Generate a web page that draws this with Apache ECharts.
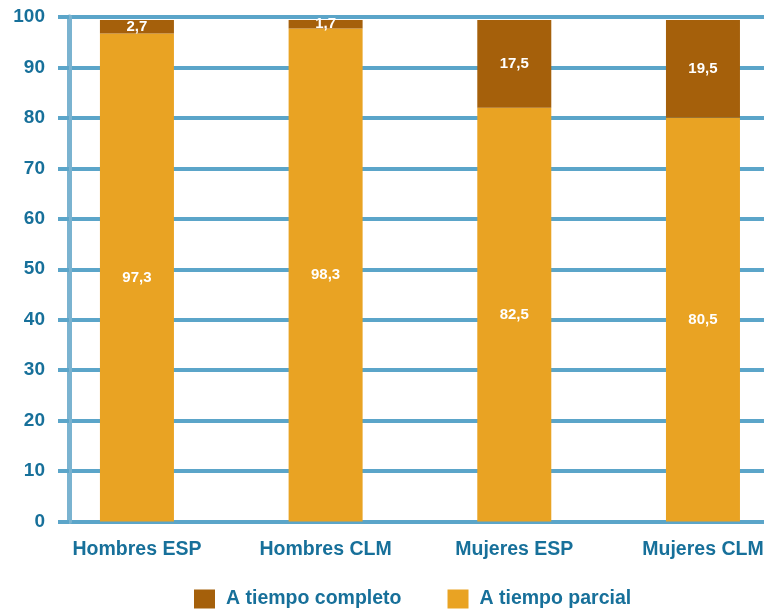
<!DOCTYPE html>
<html>
<head>
<meta charset="utf-8">
<script src="https://cdn.jsdelivr.net/npm/echarts@6/dist/echarts.min.js"></script>
<style>
  html, body { margin: 0; padding: 0; background: #ffffff; }
  #chart { width: 764px; height: 610px; }
</style>
</head>
<body>
<div id="chart"></div>
<script>
// Categories and stacked shares (%)
const categories = ['Hombres ESP', 'Hombres CLM', 'Mujeres ESP', 'Mujeres CLM'];
const parcial = [97.3, 98.3, 82.5, 80.5];
const completo = [2.7, 1.7, 17.5, 19.5];
const yTicks = [0, 10, 20, 30, 40, 50, 60, 70, 80, 90, 100];

const TEXT = '#17709A';
const GRID = '#5BA5C9';
const FONT = '"Liberation Sans", Arial, sans-serif';

const fmt = p => String(p.value).replace('.', ',');
const barLabel = {
  show: true, position: 'inside', formatter: fmt,
  color: '#ffffff', fontSize: 15, fontWeight: 'bold', fontFamily: FONT
};

const chart = echarts.init(document.getElementById('chart'), null, { renderer: 'canvas' });
chart.setOption({
  animation: false,
  backgroundColor: '#ffffff',
  textStyle: { fontFamily: FONT },
  // grid 0: value scale with gridlines; grid 1: wider category band for the bars
  grid: [
    { left: 69, right: 0, top: 17, bottom: 88.5, containLabel: false, outerBoundsMode: 'none' },
    { left: 42.6, width: 754.7, top: 17, bottom: 88.5, containLabel: false, outerBoundsMode: 'none' }
  ],
  legend: {
    left: 194,
    bottom: 1,
    padding: 0,
    itemWidth: 21,
    itemHeight: 19,
    itemGap: 46,
    icon: 'rect',
    data: ['A tiempo completo', 'A tiempo parcial'],
    textStyle: { color: TEXT, fontSize: 19.5, fontWeight: 'bold', fontFamily: FONT, padding: [0, 0, 0, 6] }
  },
  xAxis: [
    { type: 'value', gridIndex: 0, min: 0, max: 1, show: false },
    {
      type: 'category',
      gridIndex: 1,
      data: categories,
      axisLine: { show: false },
      axisTick: { show: false },
      splitLine: { show: false },
      axisLabel: {
        color: TEXT,
        fontSize: 19.5,
        fontWeight: 'bold',
        fontFamily: FONT,
        margin: 18
      }
    }
  ],
  yAxis: [
    {
      type: 'value',
      gridIndex: 0,
      min: yTicks[0],
      max: yTicks[yTicks.length - 1],
      interval: 10,
      axisLine: { show: true, onZero: false, lineStyle: { color: '#7AB3D0', width: 5 } },
      axisTick: { show: true, length: 11, lineStyle: { color: GRID, width: 4 } },
      splitLine: { show: true, lineStyle: { color: GRID, width: 4 } },
      axisLabel: {
        color: TEXT,
        fontSize: 19,
        fontWeight: 'bold',
        fontFamily: FONT,
        margin: 24
      }
    },
    {
      // bar scale leaves a sliver of headroom under the top gridline
      type: 'value',
      gridIndex: 1,
      min: 0,
      max: 100.6,
      show: false
    }
  ],
  series: [
    {
      name: 'A tiempo parcial',
      type: 'bar',
      xAxisIndex: 1,
      yAxisIndex: 1,
      stack: 'total',
      barWidth: 74,
      data: parcial,
      itemStyle: { color: '#E9A323' },
      label: barLabel
    },
    {
      name: 'A tiempo completo',
      type: 'bar',
      xAxisIndex: 1,
      yAxisIndex: 1,
      stack: 'total',
      barWidth: 74,
      data: completo,
      itemStyle: { color: '#A5600B' },
      label: barLabel
    }
  ]
});
</script>
</body>
</html>
